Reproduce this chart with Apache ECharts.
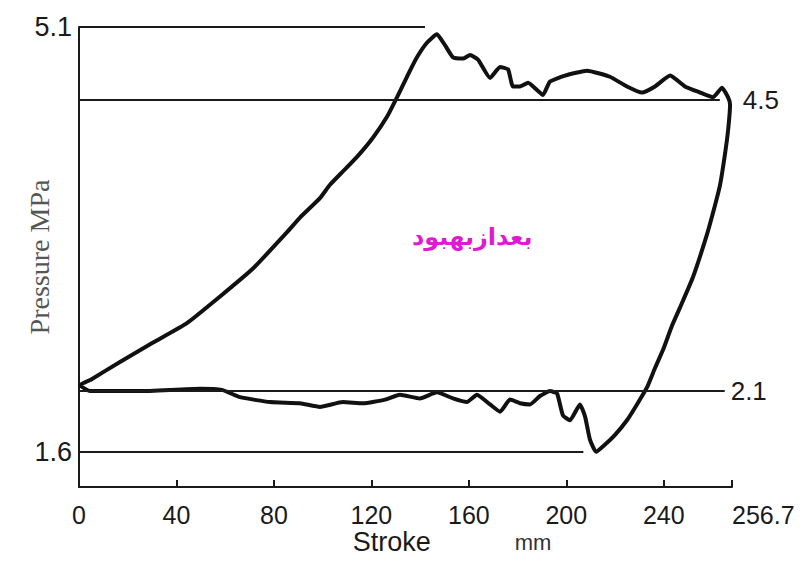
<!DOCTYPE html>
<html>
<head>
<meta charset="utf-8">
<script src="https://cdn.jsdelivr.net/npm/echarts@6/dist/echarts.min.js"></script>
<style>html,body{margin:0;padding:0;background:#fff;}#c{width:806px;height:563px;}</style>
</head>
<body>
<div id="c"></div>
<script>
// Tick labels
const strokeTicks = [0, 40, 80, 120, 160, 200, 240];
const strokeEnd = 268;            // axis end position
const strokeEndLabel = '256.7';   // printed at the axis end
const pressureTicks = [1.6, 5.1];

// Indicator loop (stroke mm, pressure MPa), in drawing order
const loopStroke = [4.5,16.8,30.4,44.3,57.9,71.4,85.4,90.7,98.9,103.0,108.3,114.1,120.7,126.4,130.5,134.6,138.7,142.8,146.9,
  150.2,153.5,157.6,160.5,163.8,168.7,172.8,176.1,178.1,181.0,184.3,188.0,190.4,193.3,199.5,208.5,217.9,224.9,231.1,236.4,242.6,248.7,254.9,260.2,263.9,266.4,
  267.2,266.4,265.1,263.1,261.0,257.7,252.0,246.7,243.4,239.7,236.4,233.1,229.0,224.9,220.0,215.9,212.2,
  209.7,207.7,205.6,201.5,198.6,196.2,193.3,189.2,185.1,181.0,176.9,172.8,168.7,163.3,159.2,153.5,146.9,139.9,131.7,125.6,116.6,108.3,98.9,90.7,78.4,66.1,58.7,49.7,25.0,4.5,0.4,4.5];
const loopPressure = [2.19,2.34,2.50,2.66,2.88,3.11,3.41,3.53,3.69,3.80,3.91,4.03,4.19,4.36,4.52,4.69,4.85,4.97,5.04,
  4.95,4.85,4.84,4.87,4.83,4.68,4.77,4.75,4.61,4.61,4.64,4.58,4.54,4.65,4.70,4.74,4.69,4.61,4.56,4.61,4.70,4.61,4.56,4.52,4.60,4.52,
  4.46,4.25,4.05,3.80,3.63,3.39,3.04,2.79,2.64,2.44,2.29,2.13,1.99,1.86,1.74,1.66,1.60,
  1.70,1.89,1.99,1.86,1.90,2.08,2.10,2.06,1.99,2.00,2.03,1.93,1.99,2.07,2.01,2.04,2.09,2.04,2.07,2.03,2.00,2.01,1.97,2.00,2.01,2.05,2.11,2.12,2.10,2.10,2.15,2.19];

// Reference levels
const refPressure = [5.1, 4.5, 2.1, 1.6];
const refEndStroke = [142, 263, 265, 207];
const refLabels = ['', '4.5', '2.1', ''];
const refLabelGap = [0, 23, 6, 0];

const noteText = 'بعدازبهبود';

const numFont = 'Liberation Sans';
const chart = echarts.init(document.getElementById('c'), null, {renderer: 'svg'});

const loopData = loopStroke.map((x, i) => [x, loopPressure[i]]);
const refData = refPressure.map((p, i) => [
  {coord: [0, p], label: {show: !!refLabels[i], formatter: refLabels[i], distance: refLabelGap[i]}},
  {coord: [refEndStroke[i], p]}
]);

chart.setOption({
  backgroundColor: '#ffffff',
  animation: false,
  grid: {left: 79, right: 74, top: 27, bottom: 76, containLabel: false, outerBoundsMode: 'none'},
  xAxis: {
    type: 'value', min: 0, max: strokeEnd,
    axisLine: {show: true, lineStyle: {color: '#1a1a1a', width: 2}},
    axisTick: {show: true, inside: true, length: 7, customValues: strokeTicks.slice(1).concat([strokeEnd]), lineStyle: {color: '#1a1a1a', width: 2}},
    splitLine: {show: false},
    axisLabel: {
      customValues: strokeTicks.concat([strokeEnd]),
      showMaxLabel: true, showMinLabel: true, hideOverlap: false,
      alignMaxLabel: 'left',
      margin: 17, fontSize: 25, lineHeight: 22, fontFamily: numFont, color: '#1a1a1a',
      formatter: v => v === strokeEnd ? strokeEndLabel : String(v)
    },
    name: '{s|Stroke}{m|mm}',
    nameLocation: 'middle', nameGap: 44, nameMoveOverlap: false,
    nameTextStyle: {
      rich: {
        s: {fontSize: 27, lineHeight: 22, fontFamily: numFont, color: '#1a1a1a', padding: [0, 0, 0, 93]},
        m: {fontSize: 22, lineHeight: 22, fontFamily: numFont, color: '#333', padding: [0, 0, 0, 84]}
      }
    }
  },
  yAxis: {
    type: 'value', min: 1.31, max: 5.1,
    axisLine: {show: true, lineStyle: {color: '#1a1a1a', width: 2}},
    axisTick: {show: false},
    splitLine: {show: false},
    axisLabel: {customValues: pressureTicks, showMaxLabel: true, showMinLabel: true, margin: 7, fontSize: 27, fontFamily: numFont, color: '#1a1a1a', formatter: v => v.toFixed(1)},
    name: 'Pressure MPa', nameLocation: 'middle', nameGap: 26, nameMoveOverlap: false,
    nameTextStyle: {fontSize: 28, fontFamily: 'Liberation Serif', color: '#555'}
  },
  series: [{
    type: 'line',
    data: loopData,
    showSymbol: false,
    smooth: 0.15,
    lineStyle: {color: '#111', width: 4},
    markLine: {
      silent: true,
      symbol: ['none', 'none'],
      lineStyle: {color: '#1a1a1a', width: 2, type: 'solid'},
      label: {position: 'end', fontSize: 26, fontFamily: numFont, color: '#1a1a1a'},
      data: refData
    }
  }],
  graphic: [{
    type: 'text', left: 412, top: 225,
    style: {text: noteText, fontSize: 24, fontWeight: 'bold', fontFamily: 'DejaVu Sans', fill: '#e01ad0'}
  }]
});
</script>
</body>
</html>
